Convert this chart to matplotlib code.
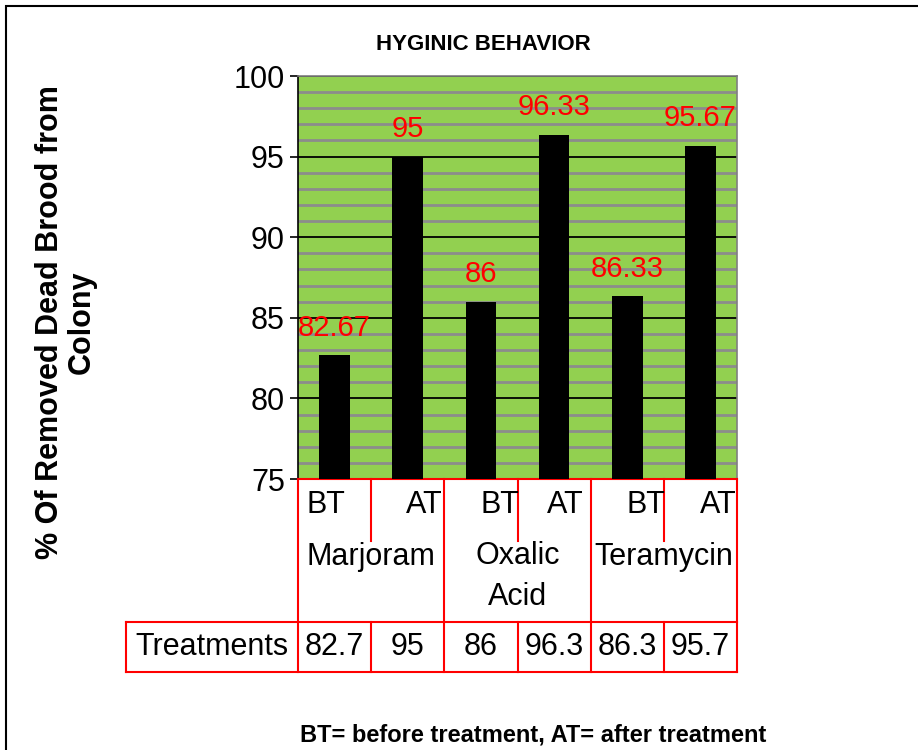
import matplotlib.pyplot as plt
from matplotlib.patches import Rectangle
import matplotlib.transforms as mtransforms

plt.rcParams['font.family'] = ['Liberation Sans', 'DejaVu Sans']

groups = ['Marjoram', 'Oxalic\nAcid', 'Teramycin']
phases = ['BT', 'AT', 'BT', 'AT', 'BT', 'AT']
values = [82.67, 95, 86, 96.33, 86.33, 95.67]
label_text = ['82.67', '95', '86', '96.33', '86.33', '95.67']
table_vals = ['82.7', '95', '86', '96.3', '86.3', '95.7']

W, H = 918, 750
fig = plt.figure(figsize=(W / 100, H / 100), dpi=100)
ax = fig.add_axes([298 / W, 1 - 479 / H, 439 / W, 403 / H])

ax.set_facecolor('#92D050')
x = list(range(len(values)))
ax.bar(x, [v - 75 for v in values], bottom=75, width=0.42, color='black', zorder=3)
ax.set_xlim(-0.5, 5.5)
ax.set_ylim(75, 100)
ax.set_yticks([75, 80, 85, 90, 95, 100])
ax.set_yticks(range(75, 101), minor=True)
ax.yaxis.grid(True, which='minor', color='#8c8c8c', linewidth=2, zorder=1)
ax.yaxis.grid(True, which='major', color='black', linewidth=1.3, zorder=2)
ax.tick_params(axis='y', which='major', labelsize=22, length=6, width=1.2, direction='out')
ax.tick_params(axis='y', which='minor', length=0)
ax.set_xticks([])
ax.spines['left'].set_color('black')
ax.spines['left'].set_linewidth(1.2)
ax.spines['bottom'].set_color('red')
ax.spines['bottom'].set_linewidth(1.5)
for s in ['top', 'right']:
    ax.spines[s].set_color('#7f7f7f')
    ax.spines[s].set_linewidth(1.2)

# data labels
for i, v in enumerate(values):
    ax.annotate(label_text[i], (i, v), xytext=(0, 20), textcoords='offset points',
                ha='center', va='center', color='red', fontsize=21, annotation_clip=False)

# data table below the axis (x in data, y in axes fraction)
tr = mtransforms.blended_transform_factory(ax.transData, ax.transAxes)
y_top, y_row, y_bot = 0.0, -143 / 403, -193 / 403
y_sub = -62 / 403
red = dict(color='red', linewidth=1.5, transform=tr, clip_on=False)
left_x = -0.5 - 172 / 73.17
for bx in [-0.5, 1.5, 3.5, 5.5]:
    ax.plot([bx, bx], [y_top, y_bot], **red)
for bx in [0.5, 2.5, 4.5]:
    ax.plot([bx, bx], [y_top, y_sub], **red)
    ax.plot([bx, bx], [y_row, y_bot], **red)
ax.plot([left_x, 5.5], [y_row, y_row], **red)
ax.plot([left_x, 5.5], [y_bot, y_bot], **red)
ax.plot([left_x, left_x], [y_row, y_bot], **red)

phase_x = [-0.12, 1.22, 2.26, 3.16, 4.26, 5.24]
for px, p in zip(phase_x, phases):
    ax.text(px, -26 / 403, p, transform=tr, ha='center', va='center', fontsize=22)
for gi, g in enumerate(groups):
    gy = -97.5 / 403 if '\n' in g else -78 / 403
    ax.text(2 * gi + 0.5, gy, g, transform=tr, ha='center', va='center', fontsize=22,
            linespacing=1.45)
for i, t in enumerate(table_vals):
    ax.text(i, -168 / 403, t, transform=tr, ha='center', va='center', fontsize=22)
ax.text((left_x - 0.5) / 2, -168 / 403, 'Treatments', transform=tr, ha='center', va='center', fontsize=22)

fig.text(66 / W, 1 - 322 / H, '% Of Removed Dead Brood from\nColony', rotation=90,
         ha='center', va='center', fontsize=22, fontweight='bold', multialignment='center',
         linespacing=1.1)
fig.text(483 / W, 1 - 44 / H, 'HYGINIC BEHAVIOR', ha='center', va='center',
         fontsize=16, fontweight='bold')
fig.text(533 / W, 1 - 735 / H, 'BT= before treatment, AT= after treatment', ha='center',
         va='center', fontsize=17, fontweight='bold')

fig.patches.append(Rectangle((6 / W, -0.05), 1.0, 1 - 6 / H + 0.05, transform=fig.transFigure,
                             fill=False, edgecolor='black', linewidth=1.5))

fig.savefig('out.png', dpi=100)
